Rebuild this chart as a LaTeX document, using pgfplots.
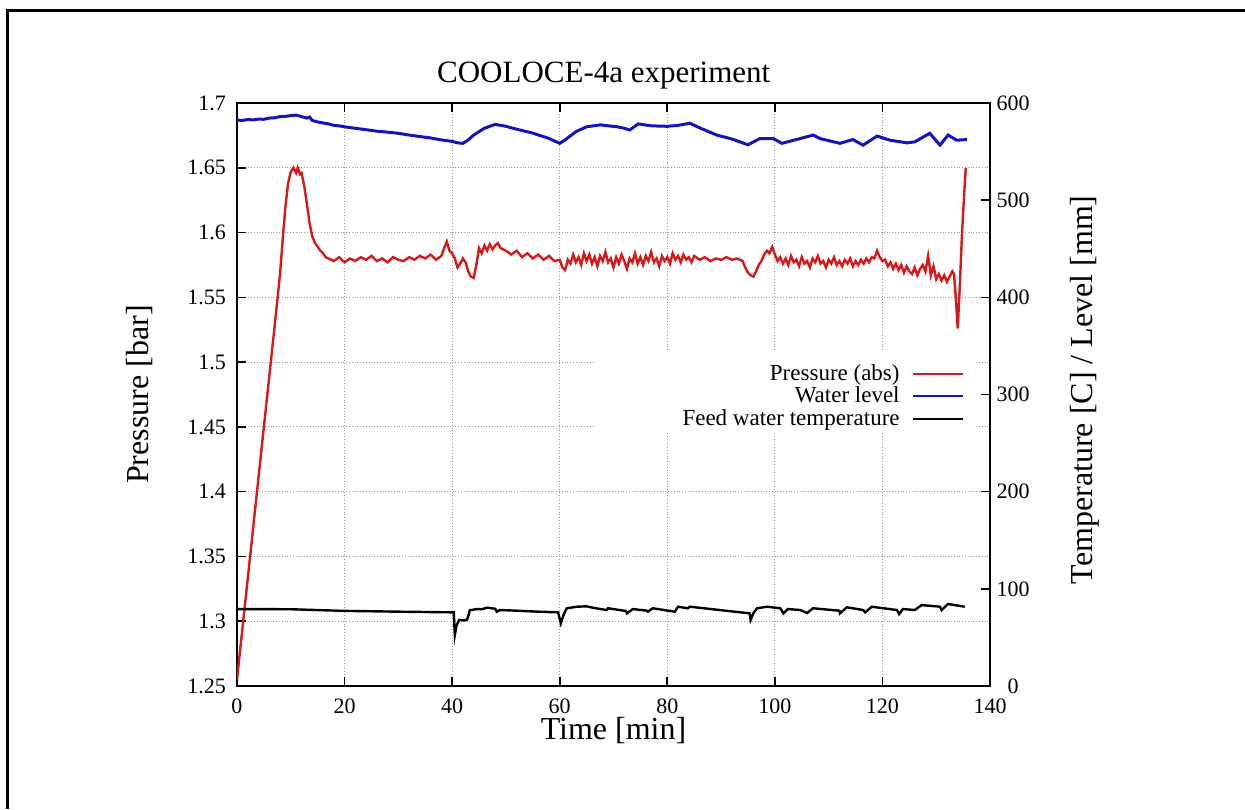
\documentclass[border=0pt]{standalone}
\usepackage{fontspec}
\setmainfont{Liberation Serif}
\usepackage{pgfplots}
\pgfplotsset{compat=1.18}

\definecolor{pres}{RGB}{215,25,25}
\definecolor{lev}{RGB}{20,20,190}

\pgfplotsset{
  common/.style={
    scale only axis, width=376.5pt, height=291.5pt,
    xmin=0, xmax=140,
    /pgf/number format/assume math mode=true,
    tick label style={font=\fontsize{11}{13}\selectfont},
    label style={font=\fontsize{16}{18}\selectfont},
    major tick length=4.5pt,
    tick style={black, line width=0.8pt},
    axis line style={line width=0.8pt},
  },
}

\begin{document}
\begin{tikzpicture}[x=1pt,y=1pt]
\useasboundingbox (-118.5,-61.5) rectangle (504,343);
\draw[line width=1.5pt] (-114.5,-61.5) -- (-114.5,337.5) -- (504,337.5);

\begin{axis}[common,
    ymin=1.25, ymax=1.7,
    ytick={1.25,1.3,1.35,1.4,1.45,1.5,1.55,1.6,1.65,1.7},
    xtick={0,20,...,140},
    ytick pos=left,
    xticklabel style={inner sep=0.5pt, yshift=-5.5pt},
    yticklabel style={xshift=-2pt},
    grid=major,
    major grid style={densely dotted, gray!80, line width=0.6pt},
    xlabel={Time [min]},
    xlabel style={at={(axis description cs:0.5,-0.076)}, anchor=center, inner sep=0pt},
    ylabel={Pressure [bar]},
    ylabel style={at={(axis description cs:-0.129,0.5)}, anchor=center},
    title={COOLOCE-4a experiment},
    title style={at={(axis description cs:0.487,1.027)}, anchor=center, font=\fontsize{15.5}{18}\selectfont},
]
\addplot[pres, line width=1.2pt] coordinates {
(0,1.255) (2,1.333) (4,1.411) (6,1.489) (7,1.528) (8,1.568) (8.5,1.595)
(9,1.620) (9.5,1.638) (10,1.647) (10.5,1.650) (11,1.646) (11.3,1.650)
(11.7,1.645) (12,1.646) (12.5,1.636) (13,1.622) (13.5,1.607) (14,1.597)
(14.5,1.592) (15,1.589) (15.5,1.586) (16,1.584) (16.5,1.581) (17,1.580)
(18,1.578) (19,1.581) (20,1.577) (21,1.580) (22,1.578) (23,1.581)
(24,1.579) (25,1.582) (26,1.578) (27,1.580) (28,1.577) (29,1.581)
(30,1.579) (31,1.578) (32,1.581) (33,1.579) (34,1.582) (35,1.580)
(36,1.583) (37,1.579) (38,1.582) (38.5,1.588) (39,1.593) (39.5,1.586)
(40,1.584) (40.5,1.580) (41,1.573) (41.5,1.576) (42,1.580) (42.5,1.577)
(43,1.570) (43.5,1.566) (44,1.565) (44.5,1.575) (45,1.588) (45.5,1.584)
(46,1.590) (46.5,1.586) (47,1.591) (47.5,1.587) (48,1.590) (48.5,1.592)
(49,1.588) (50,1.586) (51,1.583) (52,1.586) (53,1.581) (54,1.584)
(55,1.580) (56,1.583) (57,1.579) (58,1.582) (59,1.578) (60,1.579)
(60.5,1.573) (61,1.571) (61.5,1.579) (62,1.576) (62.5,1.583) (63,1.577)
(63.5,1.581) (64,1.575) (64.5,1.584) (65,1.578) (65.5,1.583) (66,1.576)
(66.5,1.581) (67,1.574) (67.5,1.582) (68,1.578) (68.5,1.585) (69,1.577)
(69.5,1.580) (70,1.573) (70.5,1.581) (71,1.576) (71.5,1.583) (72,1.578)
(72.5,1.572) (73,1.580) (73.5,1.577) (74,1.584) (74.5,1.576) (75,1.581)
(75.5,1.575) (76,1.582) (76.5,1.578) (77,1.585) (77.5,1.577) (78,1.580)
(78.5,1.574) (79,1.582) (79.5,1.578) (80,1.581) (80.5,1.576) (81,1.584)
(81.5,1.579) (82,1.582) (82.5,1.577) (83,1.583) (83.5,1.579) (84,1.581)
(84.5,1.577) (85,1.582) (86,1.579) (87,1.581) (88,1.578) (89,1.580)
(90,1.579) (91,1.581) (92,1.579) (93,1.580) (94,1.578) (94.5,1.573)
(95,1.569) (95.5,1.567) (96,1.566) (96.5,1.570) (97,1.575) (97.5,1.578)
(98,1.583) (98.5,1.586) (99,1.584) (99.5,1.589) (100,1.583) (100.5,1.578)
(101,1.581) (101.5,1.576) (102,1.580) (102.5,1.575) (103,1.582) (103.5,1.577)
(104,1.579) (104.5,1.574) (105,1.581) (105.5,1.576) (106,1.578) (106.5,1.573)
(107,1.580) (107.5,1.577) (108,1.582) (108.5,1.576) (109,1.578) (109.5,1.573)
(110,1.579) (110.5,1.576) (111,1.581) (111.5,1.575) (112,1.578) (112.5,1.574)
(113,1.579) (113.5,1.576) (114,1.580) (114.5,1.574) (115,1.578) (115.5,1.575)
(116,1.579) (116.5,1.576) (117,1.580) (117.5,1.577) (118,1.581) (118.5,1.580)
(119,1.586) (119.5,1.581) (120,1.578) (120.5,1.579) (121,1.574) (121.5,1.577)
(122,1.572) (122.5,1.576) (123,1.571) (123.5,1.575) (124,1.569) (124.5,1.574)
(125,1.570) (125.5,1.568) (126,1.573) (126.5,1.567) (127,1.572) (127.5,1.575)
(128,1.570) (128.5,1.582) (129,1.567) (129.5,1.574) (130,1.564) (130.5,1.568)
(131,1.563) (131.5,1.567) (132,1.562) (132.5,1.566) (133,1.570) (133.3,1.568)
(133.6,1.552) (134,1.526) (134.4,1.560) (134.8,1.600) (135.2,1.630) (135.5,1.650)
};
\end{axis}

\begin{axis}[common,
    ymin=0, ymax=600,
    ytick={0,100,...,600},
    axis y line*=right,
    axis x line=none,
    yticklabel style={anchor=center, xshift=11.5pt},
    ylabel={Temperature [C] / Level [mm]},
    ylabel style={at={(axis description cs:1.126,0.508)}, anchor=center},
    legend cell align=right,
    legend plot pos=right,
    legend style={at={(axis description cs:0.966,0.497)}, anchor=east,
      draw=none, fill=none, inner sep=0pt, row sep=-2.3pt,
      font=\fontsize{11.5}{13}\selectfont},
    legend image code/.code={\path (0pt,0pt); \draw[#1, line width=0.9pt] (4pt,0pt) -- (29pt,0pt);},
]
\fill[white] (axis description cs:0.475,0.436) rectangle (axis description cs:0.980,0.573);
\addlegendimage{color=pres, line width=0.9pt}
\addlegendentry{Pressure (abs)}
\addplot[lev, line width=1.5pt] coordinates {
(0,582.5) (1,582) (2,583) (3,582.6) (4,583.5) (5,583.2) (6,584.5) (7,584.8)
(8,586) (9,586.3) (10,587) (11,587.5) (12,586) (13,584.5) (13.5,585.5)
(14,582) (15,580.5) (16,579.5) (17,578.5) (18,577) (19,576.5) (20,575.5)
(22,574) (24,572.5) (26,571) (28,570) (30,568.8) (32,567) (34,565.5)
(36,564) (38,562) (40,560.5) (41,559) (42,558.5) (43,562) (44,567)
(45,570.5) (46,574) (48,578) (50,576) (52,573) (55,569) (58,563.5)
(60,558.5) (61,562) (63,570.5) (65,575.5) (67.5,577.5) (70.6,575.6)
(72,574) (73,572.2) (74.6,578.5) (77,576.5) (80,576) (82,577) (84.2,579.2)
(86,574.5) (89.2,567) (92,563) (95,557) (97.2,563.4) (99.7,563.4)
(101.3,558.5) (104.7,563.4) (107.1,567) (108.4,563.4) (112.1,558.5)
(114.5,562.4) (116.4,556.6) (119,566) (121.4,561.7) (124.6,559) (126,560)
(128.8,568.8) (130.7,556.6) (132.2,567) (133.8,561.7) (135.7,562.4)
};
\addlegendentry{Water level}
\addplot[black, line width=1.2pt] coordinates {
(0,79.2) (10,79) (20,77.3) (30,76.5) (40.3,75.8) (40.5,52.5) (40.8,62)
(41.3,68) (42.3,67.5) (42.8,68.5) (43.3,78) (44.6,79.2) (45.5,79)
(46.5,80.6) (48,79.5) (48.3,76.5) (48.9,78.2) (52,77.5) (56,76.5)
(59.7,75.8) (60.2,64.5) (60.7,73) (61.3,80) (63.2,81.6) (65,82)
(66.2,80.5) (68.7,78.2) (69,80) (72.3,77.2) (72.5,74.8) (73.6,79.2)
(76.2,77.5) (76.4,76.5) (77.3,80) (79.4,78.2) (81.4,76.5) (82,81.6)
(83.8,80) (84.2,81.6) (95.3,74.8) (95.5,68) (96,75) (96.7,80) (98.5,81.6)
(101,80) (101.4,76.5) (101.6,74.8) (102.4,79.2) (104.7,78.2) (106,75.1)
(107.1,80) (112,77.5) (112.1,74.8) (113.4,81) (116.4,78.2) (116.8,75.8)
(118,81.6) (122.7,78.2) (123.1,74) (123.8,79.2) (126,78.2) (127.3,83.3)
(130.7,81.6) (131,78.2) (132.2,84.4) (135.3,81.6)
};
\addlegendentry{Feed water temperature}
\end{axis}
\end{tikzpicture}
\end{document}
